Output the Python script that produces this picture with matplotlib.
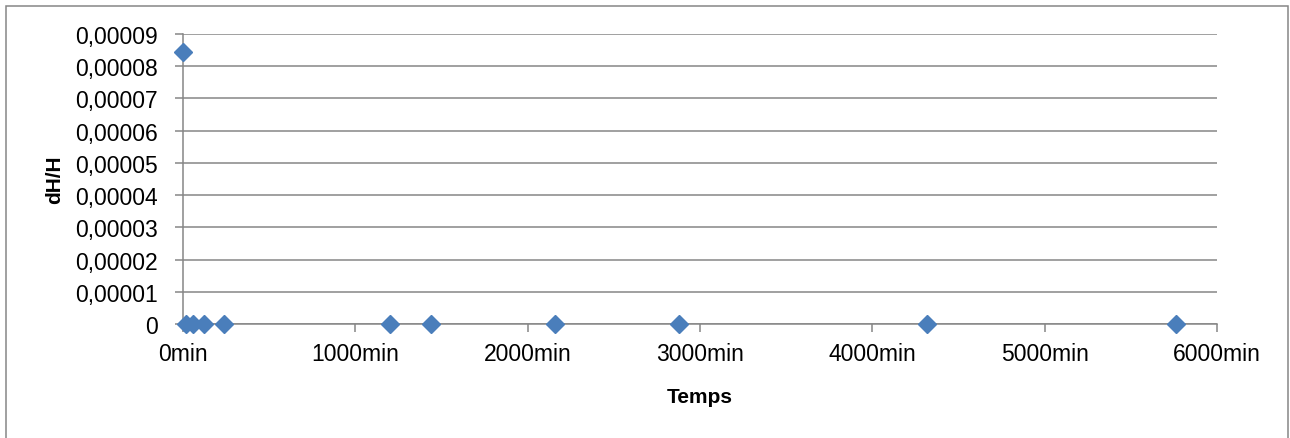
import matplotlib.pyplot as plt
from matplotlib.patches import Rectangle
from matplotlib.ticker import FuncFormatter, MultipleLocator

plt.rcParams['font.family'] = ['Liberation Sans', 'DejaVu Sans']

# données
temps = [0, 15, 60, 120, 240, 1200, 1440, 2160, 2880, 4320, 5760]
dh_h = [0.0000845, 0, 0, 0, 0, 0, 0, 0, 0, 0, 0]

x_ticks = [0, 1000, 2000, 3000, 4000, 5000, 6000]

grey = '#868686'
blue = '#4A7EBB'

fig = plt.figure(figsize=(12.9, 4.39), dpi=100)
ax = fig.add_axes([183 / 1290, (439 - 325) / 439, (1217 - 183) / 1290, 290 / 439])

ax.plot(temps, dh_h, linestyle='none', marker='D', markersize=9,
        color=blue, markeredgecolor=blue, zorder=3, clip_on=False)

ax.set_xlim(0, 6000)
ax.set_ylim(0, 0.00009)
ax.set_xticks(x_ticks)
ax.yaxis.set_major_locator(MultipleLocator(0.00001))
ax.xaxis.set_major_formatter(FuncFormatter(lambda v, p: f'{int(round(v))}min'))
ax.yaxis.set_major_formatter(
    FuncFormatter(lambda v, p: '0' if abs(v) < 1e-12 else f'{v:.5f}'.replace('.', ',')))

ax.grid(axis='y', color=grey, linewidth=1.1)
ax.set_axisbelow(True)
for side in ['top', 'right']:
    ax.spines[side].set_visible(False)
for side in ['left', 'bottom']:
    ax.spines[side].set_color(grey)
    ax.spines[side].set_linewidth(1.1)

ax.tick_params(axis='both', colors=grey, labelcolor='black', labelsize=16.5,
               length=6, width=1.1)
ax.tick_params(axis='y', pad=12)
ax.tick_params(axis='x', pad=7)

ax.set_xlabel('Temps', fontsize=15, fontweight='bold', labelpad=16)
ax.set_ylabel('dH/H', fontsize=15, fontweight='bold', labelpad=8)

# cadre du graphique
fig.patches.append(Rectangle((6 / 1290, -0.05), 1282 / 1290, 432 / 439 + 0.05,
                             transform=fig.transFigure, fill=False,
                             edgecolor=grey, linewidth=1.1))

fig.savefig('out.png', dpi=100)
